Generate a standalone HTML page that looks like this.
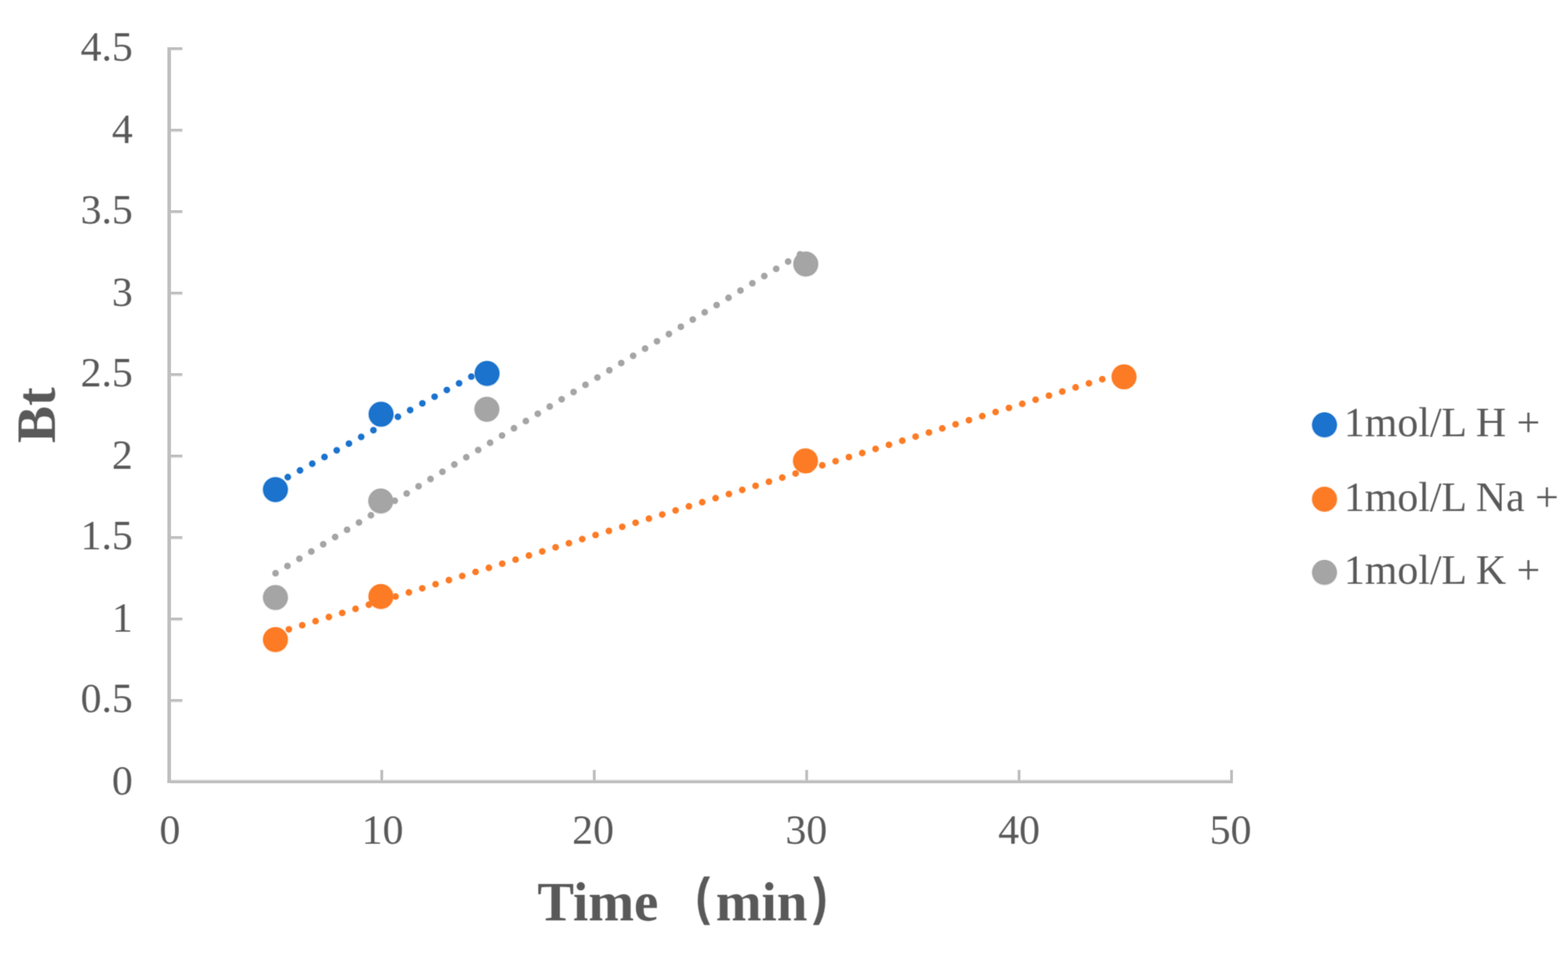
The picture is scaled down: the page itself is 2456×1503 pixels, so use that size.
<!DOCTYPE html>
<html lang="en">
<head>
<meta charset="utf-8">
<title>Bt vs Time</title>
<style>
html,body{margin:0;padding:0;background:#fff;}
body{width:2456px;height:1503px;overflow:hidden;}
svg{display:block;}
text{font-family:"Liberation Serif","Noto Serif CJK SC",serif;fill:#595959;}
.tick{font-size:65.5px;}
.title{font-size:86px;font-weight:bold;}
.paren{font-family:"Liberation Serif","WenQuanYi Zen Hei",sans-serif;font-size:79px;font-weight:normal;stroke:#595959;stroke-width:7px;}
.mk{stroke-width:2.8px;stroke-opacity:.42;}
.trend line{stroke-linecap:round;stroke-dasharray:0 21.85;}
.trend .h{stroke-width:11.9px;stroke-opacity:.42;}
.trend .d{stroke-width:9.3px;}
</style>
</head>
<body>
<svg width="2456" height="1503" viewBox="0 0 2456 1503">
<defs>
<filter id="soften" x="-4%" y="-4%" width="108%" height="108%" color-interpolation-filters="sRGB"><feConvolveMatrix order="3" kernelMatrix="1 2 1 2 4 2 1 2 1" divisor="16" edgeMode="none" preserveAlpha="false"/></filter>
</defs>
<rect width="2456" height="1503" fill="#ffffff"/>

<g class="axes">
<g class="halo">
<rect x="266" y="1220.2" width="1665" height="1.8" fill="#e6e6e6"/>
<rect x="266" y="1226" width="1665" height="1.6" fill="#f0f0f0"/>
<rect x="268" y="1098.5" width="17.6" height="1.6" fill="#e8e8e8"/>
<rect x="268" y="970.9" width="17.6" height="1.6" fill="#e8e8e8"/>
<rect x="268" y="843.4" width="17.6" height="1.6" fill="#e8e8e8"/>
<rect x="268" y="715.8" width="17.6" height="1.6" fill="#e8e8e8"/>
<rect x="268" y="588.2" width="17.6" height="1.6" fill="#e8e8e8"/>
<rect x="268" y="460.7" width="17.6" height="1.6" fill="#e8e8e8"/>
<rect x="268" y="333.1" width="17.6" height="1.6" fill="#e8e8e8"/>
<rect x="268" y="205.6" width="17.6" height="1.6" fill="#e8e8e8"/>
<rect x="268" y="78.0" width="17.6" height="1.6" fill="#e8e8e8"/>
<rect x="595.0" y="1204.8" width="6" height="17" fill="#f0f0f0"/>
<rect x="927.8" y="1204.8" width="6" height="17" fill="#f0f0f0"/>
<rect x="1260.5" y="1204.8" width="6" height="17" fill="#f0f0f0"/>
<rect x="1593.2" y="1204.8" width="6" height="17" fill="#f0f0f0"/>
<rect x="1926.0" y="1204.8" width="6" height="17" fill="#f0f0f0"/>
</g>
<g fill="#bfbfbf">
<rect x="262.2" y="74" width="5.6" height="1152"/>
<rect x="262.2" y="1222" width="1668.8" height="4"/>
<rect x="266" y="1094.5" width="19.6" height="4"/>
<rect x="266" y="966.9" width="19.6" height="4"/>
<rect x="266" y="839.4" width="19.6" height="4"/>
<rect x="266" y="711.8" width="19.6" height="4"/>
<rect x="266" y="584.2" width="19.6" height="4"/>
<rect x="266" y="456.7" width="19.6" height="4"/>
<rect x="266" y="329.1" width="19.6" height="4"/>
<rect x="266" y="201.6" width="19.6" height="4"/>
<rect x="266" y="74.0" width="19.6" height="4"/>
<rect x="596.0" y="1205.6" width="4" height="18"/>
<rect x="928.8" y="1205.6" width="4" height="18"/>
<rect x="1261.5" y="1205.6" width="4" height="18"/>
<rect x="1594.2" y="1205.6" width="4" height="18"/>
<rect x="1927.0" y="1205.6" width="4" height="18"/>
</g>
</g>
<g class="tick ylabels" text-anchor="end" filter="url(#soften)">
<text transform="translate(208,1244.3) scale(1,1.015)">0</text>
<text transform="translate(208,1115.2) scale(1,1.015)">0.5</text>
<text transform="translate(208,989.2) scale(1,1.015)">1</text>
<text transform="translate(208,860.1) scale(1,1.015)">1.5</text>
<text transform="translate(208,734.1) scale(1,1.015)">2</text>
<text transform="translate(208,605.0) scale(1,1.015)">2.5</text>
<text transform="translate(208,479.0) scale(1,1.015)">3</text>
<text transform="translate(208,349.8) scale(1,1.015)">3.5</text>
<text transform="translate(208,223.9) scale(1,1.015)">4</text>
<text transform="translate(208,94.7) scale(1,1.015)">4.5</text>
</g>
<g class="tick xlabels" text-anchor="middle" filter="url(#soften)">
<text transform="translate(266.2,1321.2) scale(1,1.015)">0</text>
<text transform="translate(599.2,1321.2) scale(1,1.015)">10</text>
<text transform="translate(929.0,1321.2) scale(1,1.015)">20</text>
<text transform="translate(1263.1,1321.2) scale(1,1.015)">30</text>
<text transform="translate(1596.3,1321.2) scale(1,1.015)">40</text>
<text transform="translate(1927.5,1321.2) scale(1,1.015)">50</text>
</g>
<g class="xtitle" filter="url(#soften)"><text class="title" transform="translate(0,1441.3) scale(1,1.02)"><tspan x="841.8" y="0">Time</tspan><tspan class="paren" x="1057" y="-10.1" textLength="59.3" lengthAdjust="spacingAndGlyphs">（</tspan><tspan x="1121.2" y="0">min</tspan><tspan class="paren" x="1269.3" y="-10.1" textLength="59.3" lengthAdjust="spacingAndGlyphs">）</tspan></text></g>
<g class="ytitle" filter="url(#soften)"><text class="title" style="font-size:87.4px" transform="translate(86.3,650) rotate(-90)" text-anchor="middle">Bt</text></g>
<g class="series">
<g class="trend" stroke="#1b73cd">
<line class="h" x1="431.60" y1="757.50" x2="585.45" y2="673.26"/>
<line class="d" x1="431.60" y1="757.50" x2="585.45" y2="673.26"/>
<line class="h" x1="623.25" y1="652.56" x2="757.93" y2="578.82"/>
<line class="d" x1="623.25" y1="652.56" x2="757.93" y2="578.82"/>
</g>
<g class="trend" stroke="#fd7b25">
<line class="h" x1="431.60" y1="991.70" x2="1747.97" y2="587.08"/>
<line class="d" x1="431.60" y1="991.70" x2="1747.97" y2="587.08"/>
</g>
<g class="trend" stroke="#a5a5a5">
<line class="h" x1="431.60" y1="897.50" x2="1253.66" y2="397.83"/>
<line class="d" x1="431.60" y1="897.50" x2="1253.66" y2="397.83"/>
</g>
<g class="mk" fill="#1b73cd" stroke="#1b73cd">
<circle cx="431.4" cy="766.6" r="19.1"/>
<circle cx="596.9" cy="648.5" r="19.1"/>
<circle cx="762.9" cy="584.7" r="19.1"/>
</g>
<g class="mk" fill="#fd7b25" stroke="#fd7b25">
<circle cx="431.4" cy="1001.4" r="19.1"/>
<circle cx="596.6" cy="933.9" r="19.1"/>
<circle cx="1261.6" cy="721.6" r="19.1"/>
<circle cx="1760.6" cy="590.0" r="19.1"/>
</g>
<g class="mk" fill="#a5a5a5" stroke="#a5a5a5">
<circle cx="431.4" cy="935.5" r="19.1"/>
<circle cx="596.4" cy="784.4" r="19.1"/>
<circle cx="762.6" cy="640.8" r="19.1"/>
<circle cx="1262.1" cy="413.4" r="19.1"/>
</g>
</g>
<g class="legend">
<g class="legend-item"><circle class="mk" cx="2074.6" cy="665.2" r="19.1" fill="#1b73cd" stroke="#1b73cd"/>
<g filter="url(#soften)"><text class="tick" transform="translate(2105,683.4) scale(1,1.015)">1mol/L H +</text></g></g>
<g class="legend-item"><circle class="mk" cx="2074.6" cy="781.6" r="19.1" fill="#fd7b25" stroke="#fd7b25"/>
<g filter="url(#soften)"><text class="tick" transform="translate(2105,799.8) scale(1,1.015)">1mol/L Na +</text></g></g>
<g class="legend-item"><circle class="mk" cx="2074.6" cy="896.2" r="19.1" fill="#a5a5a5" stroke="#a5a5a5"/>
<g filter="url(#soften)"><text class="tick" transform="translate(2105,914.4) scale(1,1.015)">1mol/L K +</text></g></g>
</g>
</svg>
</body>
</html>
